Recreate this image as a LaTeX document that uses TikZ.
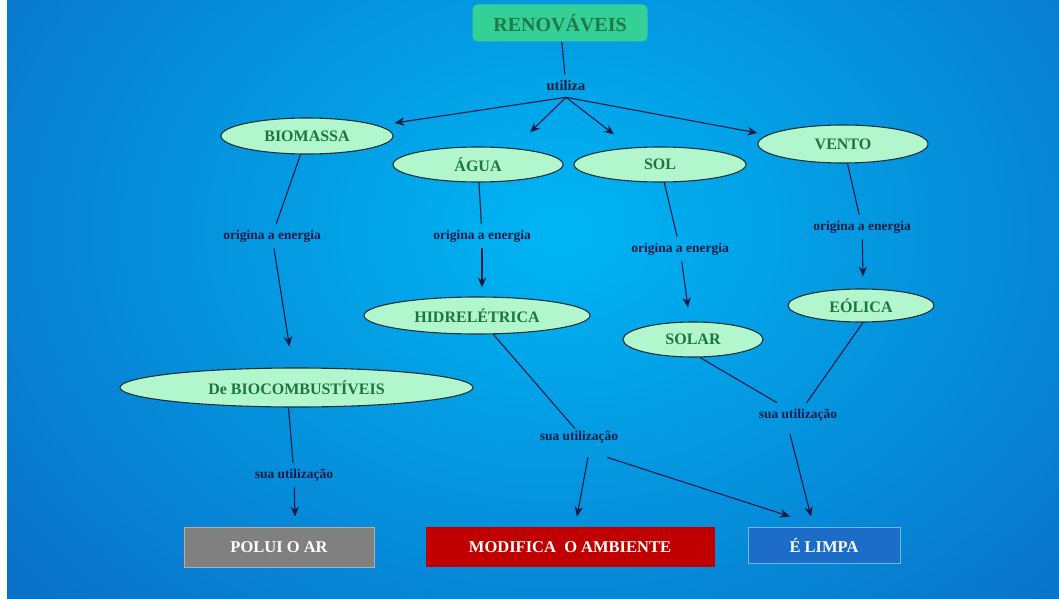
\documentclass[tikz,border=0pt]{standalone}
\usepackage{fontspec}
\setmainfont{Liberation Serif}
\usetikzlibrary{shapes.geometric,arrows.meta,calc}
\definecolor{bgin}{RGB}{0,182,244}
\definecolor{bgout}{RGB}{10,112,200}
\definecolor{ellfill}{RGB}{178,246,206}
\definecolor{ellline}{RGB}{22,50,58}
\definecolor{elltext}{RGB}{30,118,62}
\definecolor{navy}{RGB}{18,28,70}
\definecolor{renfill}{RGB}{52,208,152}
\definecolor{rentext}{RGB}{32,122,72}
\definecolor{grayfill}{RGB}{128,128,128}
\definecolor{grayline}{RGB}{175,175,175}
\definecolor{redfill}{RGB}{192,0,0}
\definecolor{bluefill}{RGB}{28,108,200}
\definecolor{blueline}{RGB}{95,190,240}
\begin{document}
\begin{tikzpicture}[x=1pt,y=-1pt,
  ell/.style={ellipse, draw=ellline, fill=ellfill, line width=1.1pt, inner sep=0pt,
    text=elltext, font=\fontsize{16}{16}\selectfont\bfseries},
  lab/.style={text=navy, font=\fontsize{13.5}{13.5}\selectfont\bfseries, inner sep=6pt},
  conn/.style={draw=navy, line width=1.1pt},
  arr/.style={conn, -{Stealth[length=10pt,width=8.5pt]}},
  endbox/.style={rectangle, text=white, font=\fontsize{16.5}{16.5}\selectfont\bfseries,
    line width=1pt, inner sep=0pt}
]
% background
\fill[white] (0,0) rectangle (1059,599);
\begin{scope}
  \clip (7,0) rectangle (1059,599);
  \shade[inner color=bgin, outer color=bgout] (-160,-320) rectangle (1280,780);
\end{scope}
\useasboundingbox (0,0) rectangle (1059,599);

% nodes
\node[rectangle, rounded corners=5pt, fill=renfill, text=rentext, minimum width=175pt,
  minimum height=37pt, inner sep=0pt, font=\fontsize{20}{20}\selectfont\bfseries]
  (ren) at (560,23) {RENOVÁVEIS};
\node[lab, font=\fontsize{14.5}{14.5}\selectfont\bfseries] (util) at (566,86) {utiliza};

\node[ell, minimum width=172pt, minimum height=36pt] (bio) at (307,136) {BIOMASSA};
\node[ell, minimum width=170pt, minimum height=35pt] (agua) at (478,164.5) {ÁGUA};
\node[ell, minimum width=172pt, minimum height=35pt] (sol) at (660,164.5) {SOL};
\node[ell, minimum width=170pt, minimum height=38pt] (vento) at (843,144) {VENTO};

\node[lab] (L1) at (272,236) {origina a energia};
\node[lab] (L2) at (482,236) {origina a energia};
\node[lab] (L3) at (680,249) {origina a energia};
\node[lab] (L4) at (862,227) {origina a energia};

\node[ell, minimum width=226pt, minimum height=37pt] (hidr) at (477,315.5) {HIDRELÉTRICA};
\node[ell, minimum width=140pt, minimum height=35pt] (solar) at (693,339.5) {SOLAR};
\node[ell, minimum width=146pt, minimum height=33pt] (eolica) at (861,305.5) {EÓLICA};
\node[ell, minimum width=353pt, minimum height=39pt] (biocomb) at (296.5,387.5) {De BIOCOMBUSTÍVEIS};

\node[lab] (S1) at (294,475) {sua utilização};
\node[lab] (S2) at (579,437) {sua utilização};
\node[lab] (S3) at (798,415) {sua utilização};

\node[endbox, fill=grayfill, draw=grayline, minimum width=190pt, minimum height=40pt]
  (polui) at (279,547) {POLUI O AR};
\node[endbox, fill=redfill, minimum width=289pt, minimum height=40pt]
  (modif) at (570,547) {MODIFICA\ \ O AMBIENTE};
\node[endbox, fill=bluefill, draw=blueline, minimum width=152pt, minimum height=36pt]
  (limpa) at (824,545) {É LIMPA};

% connectors
\draw[conn] (ren) -- (util);
\draw[arr] (util.south) -- ($(bio.east)+(1,-13)$);
\draw[arr] (util.south) -- ($(agua.north)+(52,-14)$);
\draw[arr] (util.south) -- ($(sol.north)+(-46,-12)$);
\draw[arr] (util.south) -- ($(vento.west)+(0,-11)$);

\draw[conn] (bio) -- (L1);
\draw[arr] (L1) -- ($(biocomb.north)+(-7,-21)$);
\draw[conn] (agua) -- (L2);
\draw[arr] (L2) -- ($(hidr.north)+(5,-9)$);
\draw[conn] (sol) -- (L3);
\draw[arr] (L3) -- ($(solar.north)+(-5,-14)$);
\draw[conn] (vento) -- (L4);
\draw[arr] (L4) -- ($(eolica.north)+(2,-12)$);

\draw[conn] ($(biocomb.south)+(-8,0)$) -- (S1);
\draw[arr] (S1) -- ($(polui.north)+(16,-10)$);
\draw[conn] (hidr) -- ($(S2.north)+(-4,4)$);
\draw[arr] ($(S2.south)+(9,8)$) -- ($(modif.north)+(7,-10)$);
\draw[arr] ($(S2.south)+(28,8)$) -- ($(limpa.north)+(-34,-10)$);
\draw[conn] ($(solar.south)+(7,0)$) -- (S3);
\draw[conn] ($(eolica.south)+(2,0)$) -- (S3);
\draw[arr] ($(S3.south)+(-8,7)$) -- ($(limpa.north)+(-13,-10)$);
\end{tikzpicture}
\end{document}
